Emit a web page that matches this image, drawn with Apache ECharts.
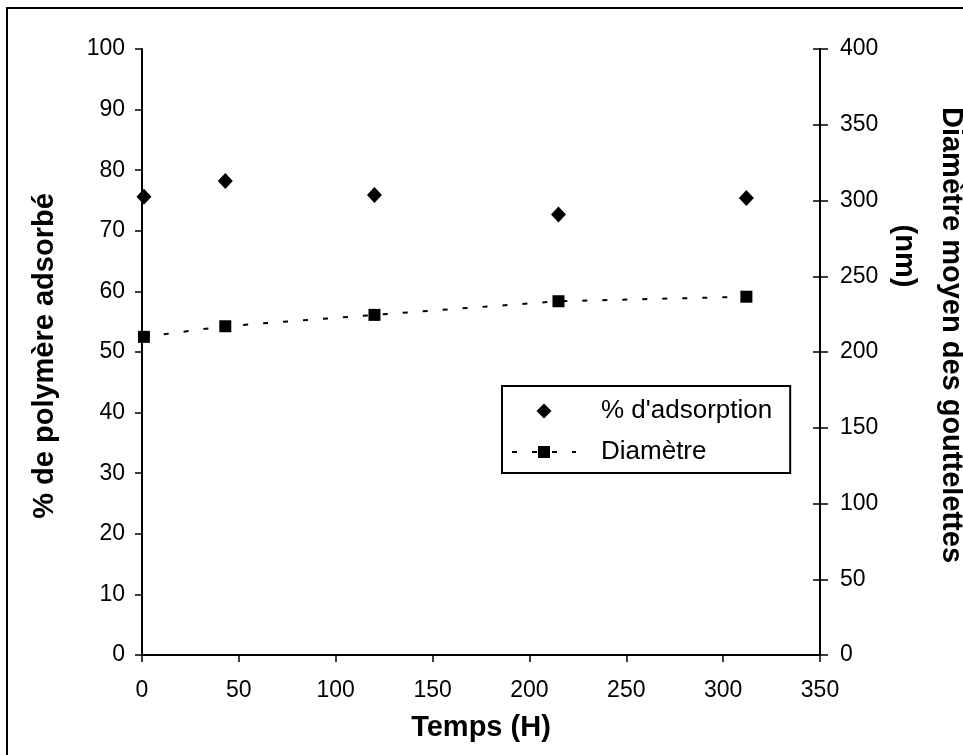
<!DOCTYPE html>
<html>
<head>
<meta charset="utf-8">
<script src="https://cdn.jsdelivr.net/npm/echarts@6/dist/echarts.min.js"></script>
<style>
  html, body { margin: 0; padding: 0; background: #fff; }
  #grafico { width: 963px; height: 755px; }
</style>
</head>
<body>
<div id="grafico"></div>
<script>
// Données
const temps = [1, 43, 120, 215, 312];
const adsorption = [75.6, 78.2, 75.9, 72.7, 75.4];
const diametre = [210, 217, 224.5, 233.5, 236.5];
const ticksGauche = [0, 100, 10];
const ticksDroite = [0, 400, 50];
const ticksTemps = [0, 350, 50];

const police = '"Liberation Sans", Arial, sans-serif';

const grafico = echarts.init(document.getElementById('grafico'));

grafico.setOption({
    animation: false,
    backgroundColor: '#fff',
    grid: { left: 142, right: 143, top: 49, bottom: 100 },
    xAxis: {
        type: 'value',
        min: ticksTemps[0], max: ticksTemps[1], interval: ticksTemps[2],
        name: 'Temps (H)',
        nameLocation: 'middle',
        nameGap: 58,
        nameTextStyle: { fontFamily: police, fontSize: 29, fontWeight: 'bold', color: '#000' },
        axisLine: { lineStyle: { color: '#000', width: 2 } },
        axisTick: { length: 7, lineStyle: { color: '#000', width: 1.5 } },
        axisLabel: { margin: 24, fontFamily: police, fontSize: 23, color: '#000' },
        splitLine: { show: false }
    },
    yAxis: [
        {
            type: 'value',
            position: 'left',
            min: ticksGauche[0], max: ticksGauche[1], interval: ticksGauche[2],
            axisLine: { show: true, lineStyle: { color: '#000', width: 2 } },
            axisTick: { show: true, length: 7, lineStyle: { color: '#000', width: 1.5 } },
            axisLabel: { margin: 17, fontFamily: police, fontSize: 23, color: '#000' },
            splitLine: { show: false }
        },
        {
            type: 'value',
            position: 'right',
            min: ticksDroite[0], max: ticksDroite[1], interval: ticksDroite[2],
            axisLine: { show: true, lineStyle: { color: '#000', width: 2 } },
            axisTick: { show: true, length: 8, lineStyle: { color: '#000', width: 1.5 } },
            axisLabel: { margin: 20, fontFamily: police, fontSize: 23, color: '#000' },
            splitLine: { show: false }
        },
        {
            // ticks intérieurs de l'axe droit (graduations croisées)
            type: 'value',
            position: 'right',
            min: ticksDroite[0], max: ticksDroite[1], interval: ticksDroite[2],
            axisLine: { show: false },
            axisTick: { show: true, inside: true, length: 7, lineStyle: { color: '#000', width: 1.5 } },
            axisLabel: { show: false },
            splitLine: { show: false }
        }
    ],
    legend: {
        orient: 'vertical',
        left: 502,
        top: 386,
        padding: [12, 18, 8, 9],
        itemWidth: 64,
        itemHeight: 15,
        itemGap: 15,
        symbolKeepAspect: true,
        borderColor: '#000',
        borderWidth: 2,
        textStyle: { fontFamily: police, fontSize: 26, color: '#000', padding: [0, 0, 0, 20] },
        data: [
            { name: "% d'adsorption", icon: 'path://M0,-1L1,0L0,1L-1,0Z' },
            { name: 'Diamètre' }
        ]
    },
    graphic: [
        {
            type: 'rect',
            shape: { x: 7, y: 8, width: 1000, height: 800 },
            style: { fill: 'none', stroke: '#000', lineWidth: 2 },
            silent: true
        },
        {
            type: 'text',
            x: 45, y: 356,
            rotation: Math.PI / 2,
            style: {
                text: '% de polymère adsorbé',
                font: 'bold 29px ' + police,
                textAlign: 'center', textVerticalAlign: 'middle', fill: '#000'
            }
        },
        {
            type: 'text',
            x: 951, y: 335,
            rotation: -Math.PI / 2,
            style: {
                text: 'Diamètre moyen des gouttelettes',
                font: 'bold 29px ' + police,
                textAlign: 'center', textVerticalAlign: 'middle', fill: '#000'
            }
        },
        {
            type: 'text',
            x: 904, y: 256,
            rotation: -Math.PI / 2,
            style: {
                text: '(nm)',
                font: 'bold 29px ' + police,
                textAlign: 'center', textVerticalAlign: 'middle', fill: '#000'
            }
        }
    ],
    series: [
        {
            name: "% d'adsorption",
            type: 'scatter',
            yAxisIndex: 0,
            symbol: 'diamond',
            symbolSize: [15, 16],
            itemStyle: { color: '#000', opacity: 1 },
            data: temps.map((t, i) => [t, adsorption[i]])
        },
        {
            name: 'Diamètre',
            type: 'line',
            yAxisIndex: 1,
            symbol: 'rect',
            symbolSize: 12,
            itemStyle: { color: '#000' },
            lineStyle: { color: '#000', width: 2, type: [5, 15] },
            data: temps.map((t, i) => [t, diametre[i]])
        }
    ]
});
</script>
</body>
</html>
